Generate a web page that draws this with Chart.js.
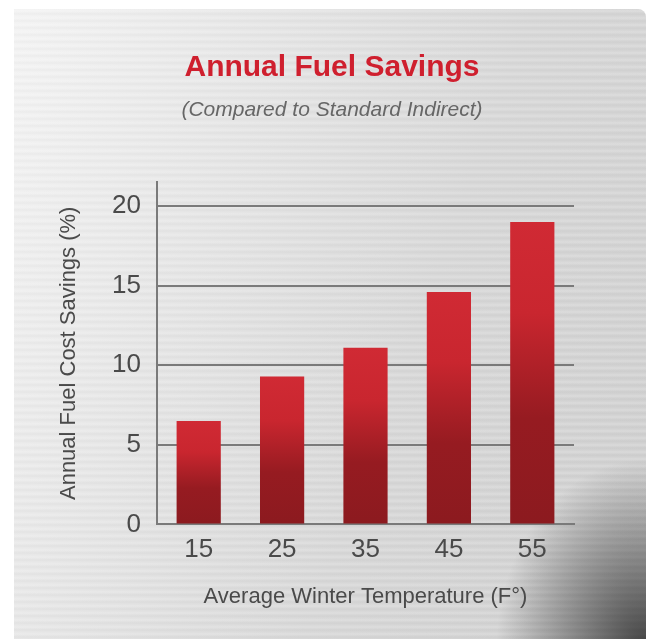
<!DOCTYPE html>
<html>
<head>
<meta charset="utf-8">
<script src="https://cdn.jsdelivr.net/npm/chart.js@4"></script>
<style>
    html, body { margin: 0; padding: 0; background: #ffffff; }
    #wrap { position: relative; width: 649px; height: 639px; overflow: hidden; }
    #panel {
        position: absolute; left: 14px; top: 9px; width: 632px; height: 640px;
        border-radius: 0 8px 0 0;
        background:
            radial-gradient(ellipse 150px 190px at 100% 100%, rgba(30,30,30,0.8), rgba(30,30,30,0) 100%),
            repeating-linear-gradient(180deg, rgba(255,255,255,0) 0px, rgba(255,255,255,0.18) 2px, rgba(0,0,0,0.025) 5px, rgba(255,255,255,0) 7px),
            linear-gradient(110deg, #f4f4f4 0%, #e6e6e6 30%, #d8d8d8 60%, #cfcfcf 100%);
    }
    #chart1 { position: absolute; left: 0; top: 0; }
</style>
</head>
<body>
<div id="wrap">
    <div id="panel"></div>
    <canvas id="chart1" width="649" height="639"></canvas>
</div>
<script>
const temps = ['15', '25', '35', '45', '55'];
const savings = [6.5, 9.3, 11.1, 14.6, 19.0];
const yMax = 21.5;
const yStep = 5;

const fontFamily = "'Liberation Sans', Arial, sans-serif";

document.addEventListener('DOMContentLoaded', () => {
    savingsChart();
});

function barFill(context) {
    const chart = context.chart;
    if (context.type !== 'data' || !chart.chartArea) {
        return '#c8262f';
    }
    const y = chart.scales.y;
    const top = y.getPixelForValue(context.raw);
    const bottom = y.getPixelForValue(0);
    const g = chart.ctx.createLinearGradient(0, top, 0, bottom);
    g.addColorStop(0, '#d02a34');
    g.addColorStop(0.3, '#c9262f');
    g.addColorStop(0.65, '#961b21');
    g.addColorStop(1, '#8c1a1f');
    return g;
}

function savingsChart() {
    const ctx = document.getElementById('chart1');

    const chart = new Chart(ctx, {
        type: 'bar',
        data: {
            labels: temps,
            datasets: [{
                label: 'Annual Fuel Cost Savings (%)',
                data: savings,
                backgroundColor: barFill,
                borderWidth: 0,
                categoryPercentage: 1,
                barPercentage: 0.53
            }]
        },
        options: {
            responsive: false,
            animation: false,
            layout: {
                padding: { left: 15, right: 0, top: 0, bottom: 29 }
            },
            scales: {
                x: {
                    grid: { display: false, drawTicks: false },
                    border: { display: true, color: '#7a7a7a', width: 2 },
                    ticks: {
                        color: '#4a4a4a',
                        padding: 10,
                        font: { family: fontFamily, size: 26 }
                    },
                    title: {
                        display: true,
                        text: 'Average Winter Temperature (F°)',
                        color: '#4a4a4a',
                        padding: { top: 8, bottom: 0 },
                        font: { family: fontFamily, size: 22 }
                    }
                },
                y: {
                    min: 0,
                    max: yMax,
                    grid: { color: '#7a7a7a', lineWidth: 2, drawTicks: false },
                    border: { display: true, color: '#7a7a7a', width: 2 },
                    ticks: {
                        stepSize: yStep,
                        includeBounds: false,
                        color: '#4a4a4a',
                        padding: 16,
                        font: { family: fontFamily, size: 26 }
                    },
                    title: {
                        display: true,
                        text: 'Annual Fuel Cost Savings (%)',
                        color: '#4a4a4a',
                        padding: { top: 41, bottom: 0 },
                        font: { family: fontFamily, size: 22 }
                    },
                    afterFit: scale => { scale.width = 142; }
                },
                y2: {
                    position: 'right',
                    display: true,
                    grid: { display: false },
                    border: { display: false },
                    ticks: { display: false },
                    afterFit: scale => { scale.width = 75; }
                }
            },
            plugins: {
                legend: { display: false },
                tooltip: { enabled: false },
                title: {
                    display: true,
                    text: 'Annual Fuel Savings',
                    color: '#cf1f2e',
                    padding: { top: 50, bottom: 12 },
                    font: { family: fontFamily, size: 30, weight: 'bold' }
                },
                subtitle: {
                    display: true,
                    text: '(Compared to Standard Indirect)',
                    color: '#666666',
                    padding: { top: 0, bottom: 59 },
                    font: { family: fontFamily, size: 21, style: 'italic' }
                }
            }
        }
    });
}
</script>
</body>
</html>
